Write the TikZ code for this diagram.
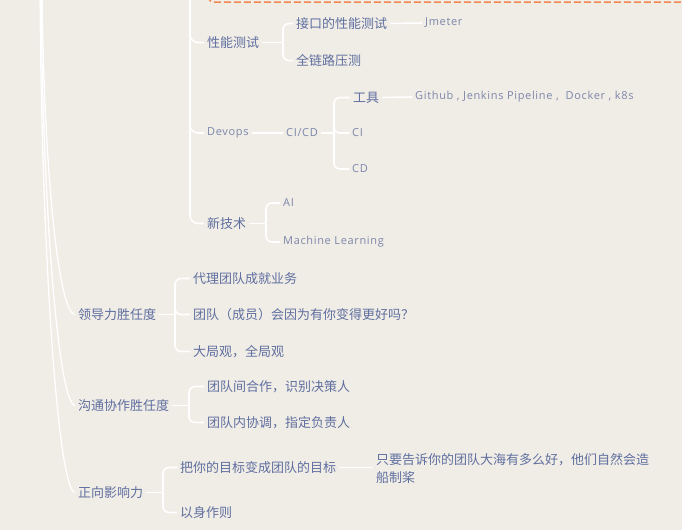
\documentclass[tikz,border=0pt]{standalone}
\usepackage{fontspec}
\setmainfont{Noto Sans CJK SC}
\newfontfamily\handfont[LetterSpace=6]{Open Sans}
\usetikzlibrary{calc}
\definecolor{bg}{HTML}{F0ECE6}
\definecolor{txt}{HTML}{5F6F9F}
\definecolor{txtl}{HTML}{7C87AB}
\definecolor{orng}{HTML}{F2874E}
\tikzset{
  topic/.style={anchor=west, inner xsep=3pt, inner ysep=2pt, yshift=-1.5pt, text=txt, font=\fontsize{13}{18}\selectfont},
  hand/.style={anchor=west, inner xsep=3pt, inner ysep=2pt, text=txtl, font=\handfont\fontsize{11}{13}\selectfont},
  link/.style={draw=white, line width=1.6pt},
  brk/.style={link, rounded corners=6pt},
  trunk/.style={draw=white, line width=1.3pt},
  boundary/.style={draw=orng, line width=1.5pt, dash pattern=on 7pt off 3pt, rounded corners=4pt}
}
\begin{document}
\begin{tikzpicture}[x=1pt,y=-1pt]
\fill[bg] (0,0) rectangle (682,530);
\useasboundingbox (0,0) rectangle (682,530);
\clip (0,0) rectangle (682,530);

% boundary edge
\coordinate (bdA) at (209,-15);
\coordinate (bdB) at (209,2);
\coordinate (bdC) at (700,2);
\draw[boundary] (bdA) -- (bdB) -- (bdC);

% nodes
\node[topic] (xn) at (204,41) {性能测试};
\node[topic] (jk) at (293,22) {接口的性能测试};
\node[hand]  (jm) at (422,23) {Jmeter};
\node[topic] (ql) at (293,59) {全链路压测};

\node[hand]  (dv) at (204,133) {Devops};
\node[hand]  (cicd) at (283,133) {CI/CD};
\node[topic] (gj) at (350,96) {工具};
\node[hand]  (gh) at (412,97) {Github , Jenkins Pipeline ,\ \ Docker , k8s};
\node[hand]  (ci) at (349,133) {CI};
\node[hand]  (cd) at (349,169) {CD};

\node[topic] (xj) at (204,222) {新技术};
\node[hand]  (ai) at (280,203) {AI};
\node[hand]  (ml) at (280,242) {Machine Learning};

\node[topic] (ld) at (75,313) {领导力胜任度};
\node[topic] (l1) at (190,277) {代理团队成就业务};
\node[topic] (l2) at (190,313) {团队（成员）会因为有你变得更好吗？};
\node[topic] (l3) at (190,350) {大局观，全局观};

\node[topic] (gt) at (75,404) {沟通协作胜任度};
\node[topic] (g1) at (204,385) {团队间合作，识别决策人};
\node[topic] (g2) at (204,421) {团队内协调，指定负责人};

\node[topic] (zx) at (75,491) {正向影响力};
\node[topic] (z1) at (177,466) {把你的目标变成团队的目标};
\node[topic] (z2) at (177,511) {以身作则};
\node[topic, align=left] (z3) at (373,467) {只要告诉你的团队大海有多么好，他们自然会造\\船制桨};

% vertical branch line
\coordinate (vtop) at (190,-10);
\draw[link, rounded corners=8pt] (vtop) |- (xn.west);
\draw[link, rounded corners=8pt] (vtop) |- (dv.west);
\draw[link, rounded corners=8pt] (vtop) |- (xj.west);

% left trunk curves
\coordinate (rootA) at (42,-20);
\coordinate (rootB) at (41,-20);
\coordinate (rootC) at (40,-20);
\draw[trunk] (rootA) .. controls (43,150) and (57,313) .. (ld.west);
\draw[trunk] (rootB) .. controls (42,200) and (58,404) .. (gt.west);
\draw[trunk] (rootC) .. controls (41,250) and (58,491) .. (zx.west);

% 性能测试
\coordinate (bxn) at (283,0 |- xn.east);
\draw[link] (xn.east) -- (bxn);
\draw[brk] (bxn) |- (jk.west);
\draw[brk] (bxn) |- (ql.west);
\draw[link] (jk.east) -- (jm.west);

% Devops
\draw[link] (dv.east) -- (cicd.west);
\coordinate (bcd) at (334,0 |- cicd.east);
\draw[link] (cicd.east) -- (bcd);
\draw[brk] (bcd) |- (gj.west);
\draw[brk] (bcd) |- (ci.west);
\draw[brk] (bcd) |- (cd.west);
\draw[link] (gj.east) -- (gh.west);

% 新技术
\coordinate (bxj) at (266,0 |- xj.east);
\draw[link] (xj.east) -- (bxj);
\draw[brk] (bxj) |- (ai.west);
\draw[brk] (bxj) |- (ml.west);

% 领导力
\coordinate (bld) at (175,0 |- ld.east);
\draw[link] (ld.east) -- (bld);
\draw[brk] (bld) |- (l1.west);
\draw[brk] (bld) |- (l2.west);
\draw[brk] (bld) |- (l3.west);

% 沟通
\coordinate (bgt) at (189,0 |- gt.east);
\draw[link] (gt.east) -- (bgt);
\draw[brk] (bgt) |- (g1.west);
\draw[brk] (bgt) |- (g2.west);

% 正向
\coordinate (bzx) at (163,0 |- zx.east);
\draw[link] (zx.east) -- (bzx);
\draw[brk] (bzx) |- (z1.west);
\draw[brk] (bzx) |- (z2.west);
\draw[link] (z1.east) -- (z3.west |- z1.east);
\end{tikzpicture}
\end{document}
